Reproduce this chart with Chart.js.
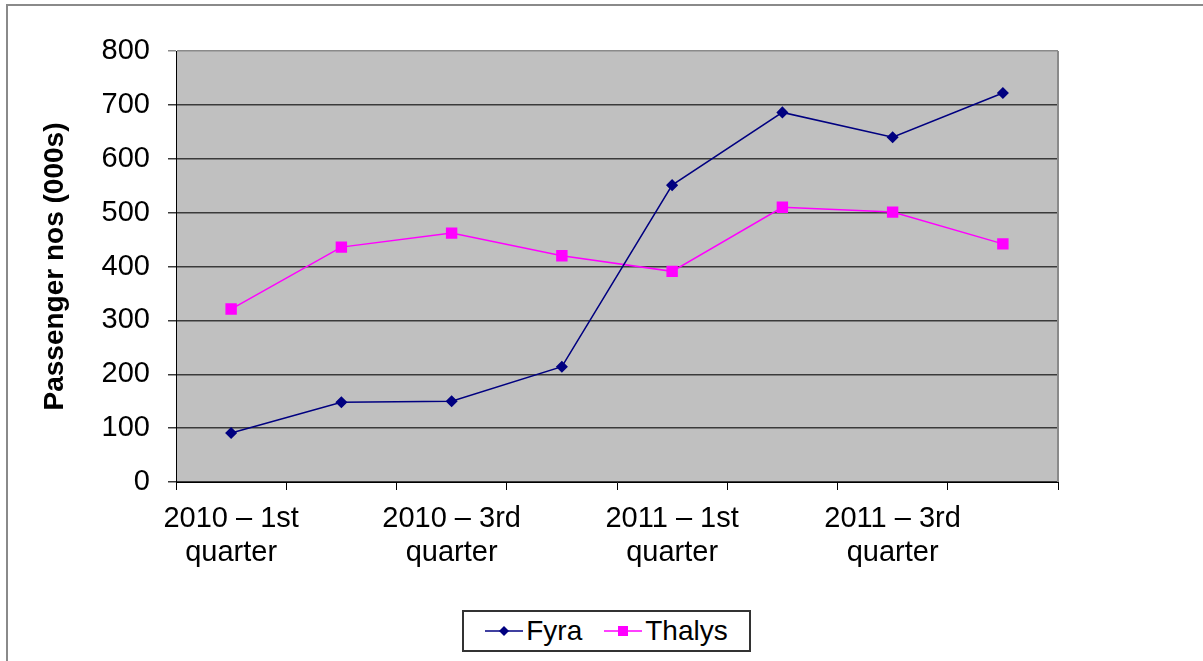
<!DOCTYPE html>
<html>
<head>
<meta charset="utf-8">
<script src="https://cdn.jsdelivr.net/npm/chart.js@4/dist/chart.umd.min.js"></script>
<style>
  body { margin: 0; background: #fff; font-family: "Liberation Sans", Arial, sans-serif; }
  #wrap { position: relative; width: 1203px; height: 661px; overflow: hidden; }
  #frame { position: absolute; left: 6px; top: 4px; width: 1300px; height: 800px; border: 2px solid #8a8a8a; box-sizing: border-box; }
  #chart { position: absolute; left: 0; top: 0; }
  #legend { position: absolute; left: 462px; top: 610px; width: 289px; height: 42px; border: 2px solid #333; box-sizing: border-box;
            display: flex; align-items: center; justify-content: center; font-size: 28px; color: #000; background: #fff; }
  .item { display: flex; align-items: center; margin: 0 11px; }
  .item svg { margin-right: 3px; }
</style>
</head>
<body>
<div id="wrap">
  <div id="frame"></div>
  <canvas id="chart" width="1203" height="661"></canvas>
  <div id="legend">
    <div class="item">
      <svg width="38" height="14"><line x1="0" y1="7" x2="38" y2="7" stroke="#000080" stroke-width="1.5"/><polygon points="19,2 24,7 19,12 14,7" fill="#000080"/></svg>Fyra
    </div>
    <div class="item">
      <svg width="38" height="14"><line x1="0" y1="7" x2="38" y2="7" stroke="#ff00ff" stroke-width="1.5"/><rect x="14" y="2" width="10" height="10" fill="#ff00ff"/></svg>Thalys
    </div>
  </div>
</div>
<script>
/* ── Data ── */
var quarters = [
  ['2010 – 1st', 'quarter'], ['2010 – 2nd', 'quarter'],
  ['2010 – 3rd', 'quarter'], ['2010 – 4th', 'quarter'],
  ['2011 – 1st', 'quarter'], ['2011 – 2nd', 'quarter'],
  ['2011 – 3rd', 'quarter'], ['2011 – 4th', 'quarter']
];
var fyra   = [91, 148, 150, 214, 551, 686, 640, 722];
var thalys = [321, 436, 462, 420, 391, 510, 501, 442];
var yTicks = [0, 100, 200, 300, 400, 500, 600, 700, 800];

/* ── Plot background + right border ── */
var plotBg = {
  id: 'plotBg',
  beforeDraw: function(chart) {
    var a = chart.chartArea, ctx = chart.ctx;
    ctx.save();
    ctx.fillStyle = '#c0c0c0';
    ctx.fillRect(a.left, a.top, a.right - a.left, a.bottom - a.top);
    ctx.restore();
  },
  beforeDatasetsDraw: function(chart) {
    var a = chart.chartArea, ctx = chart.ctx;
    ctx.save();
    ctx.strokeStyle = '#8a8a8a';
    ctx.lineWidth = 2;
    ctx.beginPath();
    ctx.moveTo(a.right, a.top);
    ctx.lineTo(a.right, a.bottom);
    ctx.stroke();
    ctx.restore();
  }
};

new Chart(document.getElementById('chart'), {
  type: 'line',
  data: {
    labels: quarters,
    datasets: [
      {
        label: 'Fyra',
        data: fyra,
        borderColor: '#000080',
        backgroundColor: '#000080',
        borderWidth: 1.5,
        pointStyle: 'rectRot',
        pointRadius: 5,
        tension: 0
      },
      {
        label: 'Thalys',
        data: thalys,
        borderColor: '#ff00ff',
        backgroundColor: '#ff00ff',
        borderWidth: 1.5,
        pointStyle: 'rect',
        pointRadius: 7,
        tension: 0
      }
    ]
  },
  options: {
    responsive: false,
    animation: false,
    layout: { padding: { left: 0, top: 51, right: 145, bottom: 79 } },
    plugins: { legend: { display: false }, tooltip: { enabled: false } },
    scales: {
      x: {
        offset: true,
        afterFit: function(s) { s.height = 100; },
        grid: { offset: true, drawOnChartArea: false, tickLength: 8, color: '#000', lineWidth: 1 },
        border: { color: '#000', width: 1 },
        ticks: {
          autoSkip: false,
          maxRotation: 0,
          padding: 12,
          color: '#000',
          font: { family: '"Liberation Sans", Arial, sans-serif', size: 29, lineHeight: 1.18 },
          callback: function(v, i) { return i % 2 === 0 ? quarters[i] : ''; }
        }
      },
      y: {
        min: 0,
        max: 800,
        afterFit: function(s) { s.width = 176; },
        afterBuildTicks: function(s) { s.ticks = yTicks.map(function(v) { return { value: v }; }); },
        grid: {
          tickLength: 8,
          lineWidth: 1.5,
          color: function(c) { return c.tick && c.tick.value === 800 ? '#8a8a8a' : '#3a3a3a'; }
        },
        border: { color: '#000', width: 1 },
        title: {
          display: true,
          text: 'Passenger nos (000s)',
          color: '#000',
          padding: { top: 38, bottom: 0 },
          font: { family: '"Liberation Sans", Arial, sans-serif', size: 28, weight: 'bold' }
        },
        ticks: {
          padding: 18,
          color: '#000',
          font: { family: '"Liberation Sans", Arial, sans-serif', size: 29 }
        }
      }
    }
  },
  plugins: [plotBg]
});
</script>
</body>
</html>
